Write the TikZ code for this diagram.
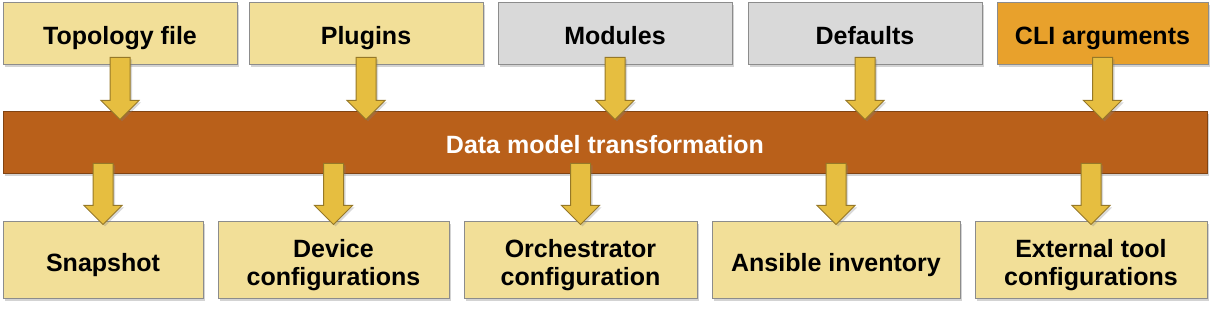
\documentclass[tikz,border=0pt]{standalone}
\usepackage{fontspec}
\setmainfont{Liberation Sans}
\usetikzlibrary{calc, shadows}

\definecolor{cream}{RGB}{242,223,152}
\definecolor{greybox}{RGB}{217,217,217}
\definecolor{cliorange}{RGB}{232,161,44}
\definecolor{rust}{RGB}{185,96,26}
\definecolor{gold}{RGB}{230,190,64}
\definecolor{golddark}{RGB}{150,120,40}

% fat down arrow in the column of #1, from the height of #2 to a tip at #3
\newcommand{\flow}[3]{\draw[flow] let \p0=(#1.center), \p1=(#2), \p2=(#3) in
	(\x0-5pt,\y1) -- (\x0+5pt,\y1) -- (\x0+5pt,\y2+9.5pt) -- (\x0+9.5pt,\y2+9.5pt) --
	(\x0,\y2) -- (\x0-9.5pt,\y2+9.5pt) -- (\x0-5pt,\y2+9.5pt) -- cycle;}

\begin{document}
\begin{tikzpicture}[x=0.5pt, y=-0.5pt,
		box/.style={rectangle, draw=black!45, line width=0.5pt, inner sep=2pt, align=center,
			font=\fontsize{12.5}{14}\selectfont\bfseries, text height=11.5pt, text depth=0.5pt,
			drop shadow={shadow xshift=1.2pt, shadow yshift=-1.2pt, opacity=0.35}},
		source/.style={box, fill=cream, minimum width=117pt, minimum height=31pt},
		builtin/.style={source, fill=greybox},
		output/.style={box, fill=cream, minimum height=38.5pt},
		twoline/.style={text height=25.5pt},
		core/.style={box, fill=rust, draw=rust!70!black, text=white, minimum width=602pt, minimum height=31pt},
		flow/.style={fill=gold, draw=golddark, line width=0.5pt,
			drop shadow={shadow xshift=1pt, shadow yshift=-1pt, opacity=0.3}}
		]
		\useasboundingbox (0,0) rectangle (1217,314);

		% inputs
		\node [source] (topology) at (120,34) {Topology file};
		\node [source] (plugins) at (366,34) {Plugins};
		\node [builtin] (modules) at (615,34) {Modules};
		\node [builtin] (defaults) at (865,34) {Defaults};
		\node [source, fill=cliorange, minimum width=105.5pt] (cli) at (1102.5,34) {CLI arguments};

		% transformation
		\node [core] (model) at (605,143) {Data model transformation};

		% outputs
		\node [output, minimum width=100pt] (snapshot) at (103,260.5) {Snapshot};
		\node [output, twoline, minimum width=115.5pt] (devices) at (333.5,260.5) {Device\\configurations};
		\node [output, twoline, minimum width=116.5pt] (orchestrator) at (580.5,260.5) {Orchestrator\\configuration};
		\node [output, minimum width=124pt] (ansible) at (836,260.5) {Ansible inventory};
		\node [output, twoline, minimum width=116pt] (external) at (1091,260.5) {External tool\\configurations};

		\foreach \src in {topology, plugins, modules, defaults, cli}
			\flow{\src}{[yshift=4pt]\src.south}{[yshift=-4pt]model.north};
		\foreach \dst in {snapshot, devices, orchestrator, ansible, external}
			\flow{\dst}{[yshift=5.5pt]model.south}{[yshift=-1.5pt]\dst.north};
	\end{tikzpicture}
\end{document}
